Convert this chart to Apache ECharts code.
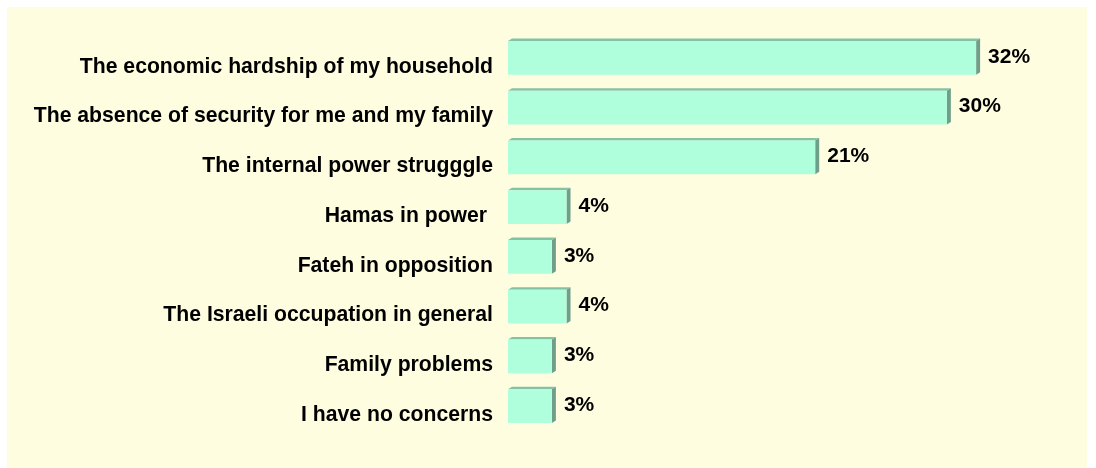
<!DOCTYPE html>
<html>
<head>
    <meta charset="utf-8">
    <title>Concerns</title>
    <script src="https://cdn.jsdelivr.net/npm/echarts@6/dist/echarts.min.js"></script>
    <style>
        * { margin: 0; padding: 0; }
        body { background: #fff; }
    </style>
</head>
<body>
    <div id="main" style="width:1096px;height:468px;"></div>
    <script type="text/javascript">
        // categories, top to bottom
        var categories = [
            'The economic hardship of my household',
            'The absence of security for me and my family',
            'The internal power strugggle',
            'Hamas in power ',
            'Fateh in opposition',
            'The Israeli occupation in general',
            'Family problems',
            'I have no concerns'
        ];
        var values = [32, 30, 21, 4, 3, 4, 3, 3];

        var myChart = echarts.init(document.getElementById('main'));

        var seriesData = values.map(function (v, i) { return [v, i]; });

        // 3D-looking bar: front face + thin top and right faces
        function renderBar(params, api) {
            var idx = api.value(1);
            var p0 = api.coord([0, idx]);
            var p1 = api.coord([api.value(0), idx]);
            var band = api.size([0, 1])[1];
            var h = band * 0.68;
            var top = p0[1] - h / 2;
            var bottom = p0[1] + h / 2;
            var x0 = p0[0], x1 = p1[0];
            var dx = 4, dy = -2.5;
            return {
                type: 'group',
                children: [
                    {
                        type: 'polygon',
                        shape: { points: [[x0, top], [x1, top], [x1 + dx, top + dy], [x0 + dx, top + dy]] },
                        style: { fill: '#84c2a4' }
                    },
                    {
                        type: 'polygon',
                        shape: { points: [[x1, top], [x1 + dx, top + dy], [x1 + dx, bottom + dy], [x1, bottom]] },
                        style: { fill: '#6f9f8a' }
                    },
                    {
                        type: 'rect',
                        shape: { x: x0, y: top, width: x1 - x0, height: h },
                        style: { fill: '#b0ffdc' }
                    },
                    {
                        type: 'text',
                        x: x1 + dx + 8,
                        y: p0[1] - 1,
                        style: {
                            text: api.value(0) + '%',
                            fill: '#000',
                            font: 'bold 21px Arial, "Liberation Sans", sans-serif',
                            verticalAlign: 'middle',
                            align: 'left'
                        }
                    }
                ]
            };
        }

        var option = {
            backgroundColor: '#ffffff',
            animation: false,
            graphic: [{
                type: 'rect',
                z: -10,
                shape: { x: 7, y: 7, width: 1080, height: 461 },
                style: { fill: '#fffde0' }
            }],
            grid: {
                left: 508,
                right: 76,
                top: 33,
                bottom: 37
            },
            xAxis: {
                type: 'value',
                min: 0,
                max: 35,
                show: false
            },
            yAxis: {
                type: 'category',
                inverse: true,
                data: categories,
                axisLine: { show: false },
                axisTick: { show: false },
                axisLabel: {
                    margin: 15,
                    color: '#000',
                    fontWeight: 'bold',
                    fontFamily: 'Arial, "Liberation Sans", sans-serif',
                    fontSize: 21.2,
                    verticalAlign: 'top',
                    lineHeight: 18
                }
            },
            series: [{
                type: 'custom',
                renderItem: renderBar,
                encode: { x: 0, y: 1 },
                data: seriesData
            }]
        };

        myChart.setOption(option);
        window.onresize = myChart.resize;
    </script>
</body>
</html>
